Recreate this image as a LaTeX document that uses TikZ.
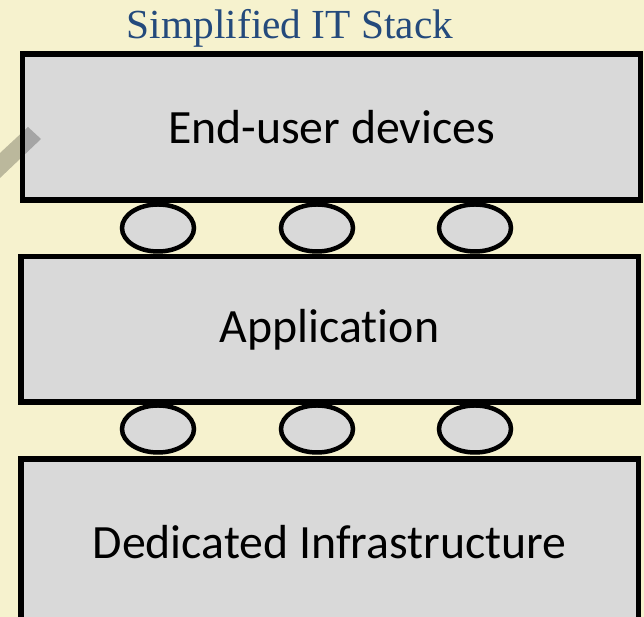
\documentclass[tikz,border=0pt]{standalone}
\usepackage{fontspec}
\setmainfont{Carlito}[Ligatures=NoCommon]
\newfontfamily\titlefont{Liberation Serif}
\usetikzlibrary{shapes.geometric}
\definecolor{paper}{RGB}{246,242,206}
\definecolor{layerfill}{RGB}{217,217,217}
\definecolor{titleblue}{RGB}{36,74,124}

\begin{document}
\begin{tikzpicture}[
    layer/.style={draw=black, line width=3.6pt, fill=layerfill, inner sep=0pt,
      font=\fontsize{34}{40}\selectfont},
    link/.style={ellipse, draw=black, line width=3.2pt, fill=layerfill, inner sep=0pt,
      minimum width=1.8cm, minimum height=1.175cm}]

    % Background
    \fill[paper] (0,0) rectangle (16.1,15.425);
    \useasboundingbox (0,0) rectangle (16.1,15.425);

    % Title
    \node[anchor=base, inner sep=0pt, text=titleblue,
      font=\titlefont\fontsize{29.4}{34}\selectfont] (title) at (7.25,14.45) {Simplified IT Stack};

    % Layers
    \node[layer, minimum width=15.44cm, minimum height=3.65cm] (devices) at (8.29,12.25) {End-user devices};
    \node[layer, minimum width=15.43cm, minimum height=3.63cm] (app) at (8.24,7.19) {Application};
    \node[layer, minimum width=15.43cm, minimum height=4.15cm] (infra) at (8.24,1.875) {Dedicated Infrastructure};

    % Interfaces between the layers
    \foreach \x [count=\i] in {3.95,7.925,11.875} {
        \node[link] (upper\i) at (\x,9.725) {};
        \node[link] (lower\i) at (\x,4.7) {};
      }

    % Faint arrow behind the stack
    \fill[black, opacity=0.24] (0,11.6) -- (0.7,12.25) -- (1.025,11.95) -- (0,10.975) -- cycle;
  \end{tikzpicture}
\end{document}
